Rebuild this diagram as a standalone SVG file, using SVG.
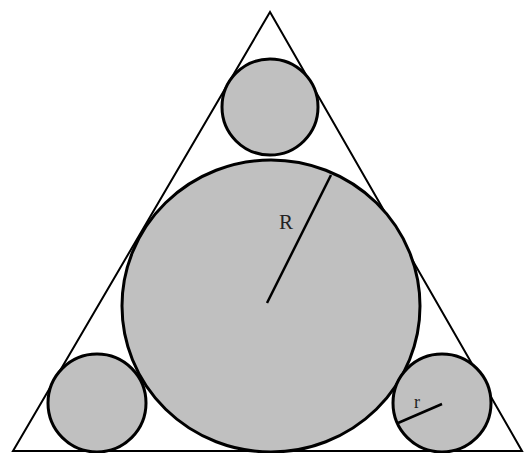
<svg xmlns="http://www.w3.org/2000/svg" width="525" height="453" viewBox="0 0 525 453">
<style>
.c{fill:#c0c0c0;stroke:#000;stroke-width:3}
.t{fill:#fff;stroke:#000;stroke-width:2}
.l{stroke:#000;stroke-width:2.5;fill:none}
text{font-family:"Liberation Serif",serif;fill:#222}
</style>
<rect width="525" height="453" fill="#fff"/>
<g id="triangle"><polygon class="t" points="270,12 522,451 13,451"/></g>
<g id="big"><ellipse class="c" cx="271" cy="306" rx="149" ry="146"/></g>
<g id="top"><circle class="c" cx="270" cy="107" r="48"/></g>
<g id="left"><circle class="c" cx="97" cy="403" r="49"/></g>
<g id="right"><circle class="c" cx="442" cy="403" r="49"/></g>
<g id="connectors">
<line class="l" x1="267" y1="303" x2="331" y2="175"/>
<line class="l" x1="442" y1="404" x2="398" y2="423"/>
</g>
<text x="279" y="229" font-size="21">R</text>
<text x="414" y="408" font-size="18">r</text>
</svg>
